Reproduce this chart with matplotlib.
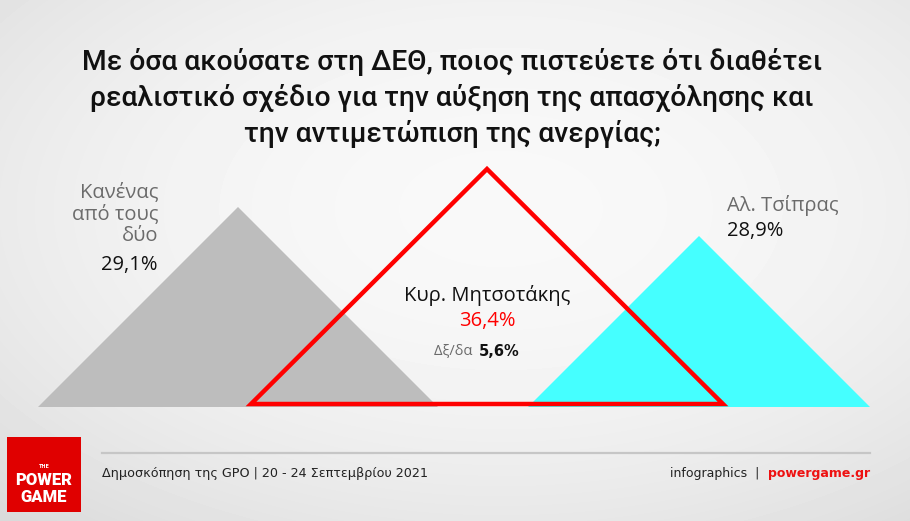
import matplotlib.pyplot as plt
from matplotlib.patches import Polygon, Rectangle
import numpy as np

# Δεδομένα δημοσκόπησης
names = ['Κανένας\nαπό τους\nδύο', 'Κυρ. Μητσοτάκης', 'Αλ. Τσίπρας']
values = [29.1, 36.4, 28.9]
undecided = 5.6
# ύψη κορυφών όπως φαίνονται στο γράφημα (px)
peaks = [200, 238, 171]
centers = [238, 487, 699]

title = ('Με όσα ακούσατε στη ΔΕΘ, ποιος πιστεύετε ότι διαθέτει\n'
         'ρεαλιστικό σχέδιο για την αύξηση της απασχόλησης και\n'
         'την αντιμετώπιση της ανεργίας;')
source = 'Δημοσκόπηση της GPO | 20 - 24 Σεπτεμβρίου 2021'

def fmt(v):
    return f'{v:.1f}%'.replace('.', ',')

W, H = 910, 521
base_y = 407

fig = plt.figure(figsize=(W / 100, H / 100), dpi=100)
ax = fig.add_axes([0, 0, 1, 1])
ax.set_xlim(0, W)
ax.set_ylim(H, 0)
ax.axis('off')

# φόντο με απαλή διαβάθμιση
yy, xx = np.mgrid[0:H, 0:W]
r = np.sqrt(((xx - W * 0.55) / W) ** 2 + ((yy - H * 0.4) / H) ** 2)
bg = 0.975 - 0.12 * np.clip(r / 0.8, 0, 1) ** 2
ax.imshow(bg, cmap='gray', vmin=0, vmax=1, extent=(0, W, H, 0), zorder=0)

# τρίγωνα
colors = ['#bdbdbd', None, '#45ffff']
order = [0, 2, 1]
for i in order:
    c, h = centers[i], peaks[i]
    if colors[i]:
        pts = [(c - h, base_y), (c, base_y - h), (c + h, base_y)]
        ax.add_patch(Polygon(pts, closed=True, facecolor=colors[i],
                             edgecolor='none', zorder=2))
    else:
        pts = [(c - h + 2, base_y - 3), (c, base_y - h + 0), (c + h - 2, base_y - 3)]
        ax.add_patch(Polygon(pts, closed=True, facecolor='none',
                             edgecolor='#ff0000', lw=3.2, joinstyle='miter',
                             zorder=3))

# τίτλος
ax.text(452, 98, title, ha='center', va='center', fontsize=20.3,
        family='Roboto', weight='medium', color='#111111', linespacing=1.38)

lab_font = 'Open Sans'
fs = 14.5
# Κανένας
ax.text(158, 214, names[0], ha='right', va='center', fontsize=fs,
        family=lab_font, color='#6b6b6b', linespacing=1.12)
ax.text(158, 265, fmt(values[0]), ha='right', va='center', fontsize=fs,
        family=lab_font, color='#111111')
# Τσίπρας
ax.text(727, 206, names[2], ha='left', va='center', fontsize=fs,
        family=lab_font, color='#6b6b6b')
ax.text(727, 231, fmt(values[2]), ha='left', va='center', fontsize=fs,
        family=lab_font, color='#111111')
# Μητσοτάκης
ax.text(487, 295, names[1], ha='center', va='center', fontsize=fs,
        family=lab_font, color='#111111')
ax.text(487, 321, fmt(values[1]), ha='center', va='center', fontsize=fs,
        family=lab_font, color='#ff0000')
ax.text(476, 352, 'Δξ/δα ', ha='right', va='center', fontsize=10.5,
        family=lab_font, color='#6b6b6b')
ax.text(479, 352, fmt(undecided), ha='left', va='center', fontsize=10.5,
        family='DejaVu Sans', weight='bold', color='#111111')

# υποσέλιδο
ax.plot([102, 870], [453, 453], color='#c6c6c6', lw=1.6, zorder=2)
ax.text(102, 474, source, ha='left', va='center', fontsize=9.2,
        family='DejaVu Sans', color='#222222')
ax.text(870, 474, 'powergame.gr', ha='right', va='center', fontsize=9,
        family='DejaVu Sans', weight='bold', color='#ee1111')
ax.text(759, 474, 'infographics  |', ha='right', va='center', fontsize=9,
        family='DejaVu Sans', color='#222222')

# λογότυπο
ax.add_patch(Rectangle((7, 437), 74, 75, facecolor='#e00000', zorder=4))
ax.text(44, 466, 'THE', ha='center', va='center', fontsize=3.5,
        weight='bold', color='white', zorder=5)
ax.text(44, 480, 'POWER', ha='center', va='center', fontsize=12,
        family='Roboto', weight='black', color='white', zorder=5)
ax.text(44, 497, 'GAME', ha='center', va='center', fontsize=12,
        family='Roboto', weight='black', color='white', zorder=5)

fig.savefig('out.png', dpi=100)
